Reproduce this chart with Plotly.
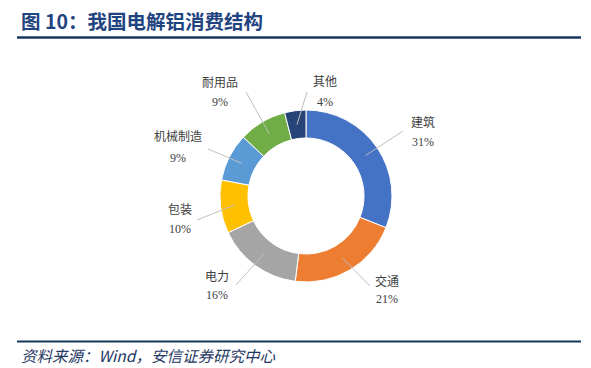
import math
import plotly.graph_objects as go

W, H = 591, 368

# ---- data ----
categories = ["建筑", "交通", "电力", "包装", "机械制造", "耐用品", "其他"]
shares = [31, 21, 16, 10, 9, 9, 4]
pct_labels = ["31%", "21%", "16%", "10%", "9%", "9%", "4%"]

title_text = "图 10：我国电解铝消费结构"
source_text = "资料来源：Wind，安信证券研究中心"

# ---- style / layout ----
colors = ["#4472C4", "#ED7D31", "#A5A5A5", "#FFC000", "#5B9BD5", "#70AD47", "#264478"]
CX, CY, R_OUT = 306, 196, 86          # donut centre / radius in pixels
HOLE = 0.675
ANCHOR_R = 72                         # where leader lines meet the ring
# label placement (pixel centre x, name-line y, percent-line y, leader start x, y)
placement = {
    "建筑":   (423, 122, 142, 403, 131),
    "交通":   (387, 281, 299, 370, 286),
    "电力":   (217, 277, 295, 236, 285),
    "包装":   (180, 210, 229, 197, 220),
    "机械制造": (178, 137, 158, 208, 149),
    "耐用品":  (220, 83, 102, 246, 92),
    "其他":   (325, 82, 102, 307, 92),
}

def px(x):
    return x / W

def py(y):
    return 1 - y / H

fig = go.Figure()
fig.add_trace(go.Pie(
    labels=categories,
    values=shares,
    hole=HOLE,
    sort=False,
    direction="clockwise",
    rotation=0,
    textinfo="none",
    showlegend=False,
    marker=dict(colors=colors, line=dict(color="white", width=1)),
    domain=dict(x=[px(CX - R_OUT), px(CX + R_OUT)], y=[py(CY + R_OUT), py(CY - R_OUT)]),
))

label_font = dict(family="Liberation Serif, Noto Sans CJK SC", size=12, color="#404040")
annotations = []
shapes = []
total = sum(shares)
cum = 0
for cat, val, pct in zip(categories, shares, pct_labels):
    mid = (cum + val / 2) / total * 2 * math.pi
    cum += val
    ax_ = CX + ANCHOR_R * math.sin(mid)
    ay_ = CY - ANCHOR_R * math.cos(mid)
    tx, ny, pyy, lx, ly = placement[cat]
    shapes.append(dict(type="line", xref="paper", yref="paper",
                       x0=px(lx), y0=py(ly), x1=px(ax_), y1=py(ay_),
                       line=dict(color="#BFBFBF", width=1)))
    annotations.append(dict(x=px(tx), y=py(ny), xref="paper", yref="paper", text=cat,
                            showarrow=False, font=label_font, xanchor="center", yanchor="middle"))
    annotations.append(dict(x=px(tx), y=py(pyy), xref="paper", yref="paper", text=pct,
                            showarrow=False, font=label_font, xanchor="center", yanchor="middle"))

# title and source
annotations.append(dict(x=px(19), y=py(21), xref="paper", yref="paper", text="<b>" + title_text + "</b>",
                        showarrow=False, xanchor="left", yanchor="middle",
                        font=dict(family="Noto Sans CJK SC", size=19.5, color="#1F4480")))
annotations.append(dict(x=px(19), y=py(355), xref="paper", yref="paper", text="<i>" + source_text + "</i>",
                        showarrow=False, xanchor="left", yanchor="middle",
                        font=dict(family="Noto Sans CJK SC", size=15.5, color="#1F3864")))

# header / footer rules
shapes.append(dict(type="line", xref="paper", yref="paper", x0=px(17), x1=px(581), y0=py(37.5), y1=py(37.5),
                   line=dict(color="#17375E", width=2.5)))
shapes.append(dict(type="line", xref="paper", yref="paper", x0=px(17), x1=px(581), y0=py(341.5), y1=py(341.5),
                   line=dict(color="#17375E", width=2)))

fig.update_layout(
    width=W, height=H,
    margin=dict(l=0, r=0, t=0, b=0),
    paper_bgcolor="white", plot_bgcolor="white",
    annotations=annotations, shapes=shapes,
)

fig.write_html("out.html", config={"displayModeBar": False},
               post_script="document.body.style.margin='0';document.body.style.overflow='hidden';")
